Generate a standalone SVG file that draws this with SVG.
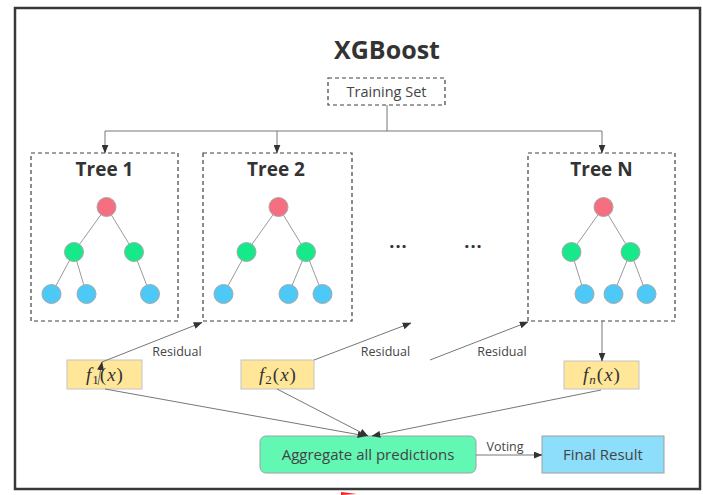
<svg xmlns="http://www.w3.org/2000/svg" width="703" height="495" viewBox="0 0 703 495">
  <defs>
    <style>
      .lbl { font-family: "Open Sans", "Liberation Sans", sans-serif; fill: #444444; }
      .title { font-family: "Open Sans", "Liberation Sans", sans-serif; font-weight: 700; fill: #333333; }
      .math { font-family: "Liberation Serif", "DejaVu Serif", serif; fill: #333333; font-size: 19px; }
      .frame { fill: none; stroke: #404040; stroke-width: 1.2; stroke-dasharray: 4 3; }
      .edge { stroke: #9a9a9a; stroke-width: 1; fill: none; }
      .root { fill: #f66f80; stroke: #a8a8a8; stroke-width: 1; }
      .mid { fill: #17e98b; stroke: #a8a8a8; stroke-width: 1; }
      .leaf { fill: #4cc9f6; stroke: #a8a8a8; stroke-width: 1; }
      .fbox { fill: #ffe699; stroke: #c4c4c4; stroke-width: 1; }
      .conn { stroke: #777777; stroke-width: 1; fill: none; }
    </style>
    <marker id="arrow" viewBox="0 0 10 8" refX="9.5" refY="4" markerWidth="9" markerHeight="7" markerUnits="userSpaceOnUse" orient="auto">
      <path d="M0,0 L10,4 L0,8 Z" fill="#333333"/>
    </marker>
  </defs>

  <rect x="0" y="0" width="703" height="495" fill="#ffffff"/>

  <!-- outer frame -->
  <rect x="15" y="8" width="685" height="481" fill="none" stroke="#383838" stroke-width="2.5"/>
  <path d="M341,492 L357,494 L341,495 Z" fill="#ff1a1a"/>

  <text class="title" x="387" y="59" font-size="25" text-anchor="middle">XGBoost</text>

  <g id="training-set">
    <rect class="frame" x="328" y="78" width="117" height="27"/>
    <text class="lbl" x="386.5" y="97" font-size="14.5" text-anchor="middle">Training Set</text>
  </g>

  <g id="tree-1">
    <rect class="frame" x="31" y="153" width="147" height="168"/>
    <text class="title" x="104.5" y="176" font-size="19" text-anchor="middle">Tree 1</text>
    <path class="edge" d="M106.5,207 L74,252 M106.5,207 L134,252 M74,252 L51.5,294 M74,252 L86.5,294 M134,252 L150,294"/>
    <circle class="root" cx="106.5" cy="207" r="9.5"/>
    <circle class="mid" cx="74" cy="252" r="9.5"/>
    <circle class="mid" cx="134" cy="252" r="9.5"/>
    <circle class="leaf" cx="51.5" cy="294" r="9.5"/>
    <circle class="leaf" cx="86.5" cy="294" r="9.5"/>
    <circle class="leaf" cx="150" cy="294" r="9.5"/>
  </g>

  <g id="tree-2">
    <rect class="frame" x="203" y="153" width="149" height="168"/>
    <text class="title" x="276" y="176" font-size="19" text-anchor="middle">Tree 2</text>
    <path class="edge" d="M278.5,207 L246.5,252 M278.5,207 L306,252 M246.5,252 L223.5,294 M306,252 L288.5,294 M306,252 L322.5,294"/>
    <circle class="root" cx="278.5" cy="207" r="9.5"/>
    <circle class="mid" cx="246.5" cy="252" r="9.5"/>
    <circle class="mid" cx="306" cy="252" r="9.5"/>
    <circle class="leaf" cx="223.5" cy="294" r="9.5"/>
    <circle class="leaf" cx="288.5" cy="294" r="9.5"/>
    <circle class="leaf" cx="322.5" cy="294" r="9.5"/>
  </g>

  <g id="ellipsis">
    <text class="title" x="398.5" y="248" font-size="18" letter-spacing="1" text-anchor="middle">...</text>
    <text class="title" x="473.5" y="248" font-size="18" letter-spacing="1" text-anchor="middle">...</text>
  </g>

  <g id="tree-n">
    <rect class="frame" x="528" y="153" width="147" height="168"/>
    <text class="title" x="601.5" y="176" font-size="19" text-anchor="middle">Tree N</text>
    <path class="edge" d="M603.5,207 L571.5,252 M603.5,207 L630.5,252 M571.5,252 L584.5,294 M630.5,252 L613.5,294 M630.5,252 L646.5,294"/>
    <circle class="root" cx="603.5" cy="207" r="9.5"/>
    <circle class="mid" cx="571.5" cy="252" r="9.5"/>
    <circle class="mid" cx="630.5" cy="252" r="9.5"/>
    <circle class="leaf" cx="584.5" cy="294" r="9.5"/>
    <circle class="leaf" cx="613.5" cy="294" r="9.5"/>
    <circle class="leaf" cx="646.5" cy="294" r="9.5"/>
  </g>

  <g id="f1">
    <rect class="fbox" x="67" y="360" width="75" height="29"/>
    <text class="math" x="104.5" y="381" text-anchor="middle"><tspan font-style="italic">f</tspan><tspan font-size="13" dx="1" dy="3">1</tspan><tspan dx="1" dy="-3">(</tspan><tspan font-style="italic" dx="1">x</tspan><tspan dx="1">)</tspan></text>
  </g>

  <g id="f2">
    <rect class="fbox" x="241" y="360" width="73" height="29"/>
    <text class="math" x="277.5" y="381" text-anchor="middle"><tspan font-style="italic">f</tspan><tspan font-size="13" dx="1" dy="3">2</tspan><tspan dx="1" dy="-3">(</tspan><tspan font-style="italic" dx="1">x</tspan><tspan dx="1">)</tspan></text>
  </g>

  <g id="fn">
    <rect class="fbox" x="564" y="361" width="75" height="28"/>
    <text class="math" x="601.5" y="381" text-anchor="middle"><tspan font-style="italic">f</tspan><tspan font-size="13" font-style="italic" dx="1" dy="3">n</tspan><tspan dx="1" dy="-3">(</tspan><tspan font-style="italic" dx="1">x</tspan><tspan dx="1">)</tspan></text>
  </g>

  <g id="aggregate">
    <rect x="260" y="436" width="216" height="37" rx="6" fill="#62f7b3" stroke="#a0a0a0" stroke-width="1"/>
    <text class="lbl" x="368" y="460" font-size="15" text-anchor="middle">Aggregate all predictions</text>
  </g>

  <g id="final-result">
    <rect x="542" y="436" width="122" height="37" fill="#8cdefb" stroke="#a0a0a0" stroke-width="1"/>
    <text class="lbl" x="603" y="460" font-size="15" text-anchor="middle">Final Result</text>
  </g>

  <g id="connectors">
    <!-- training set fan-out -->
    <path class="conn" d="M387,105 L387,131 M105,131 L602,131"/>
    <line class="conn" x1="105" y1="131" x2="105" y2="153" marker-end="url(#arrow)"/>
    <line class="conn" x1="277" y1="131" x2="277" y2="153" marker-end="url(#arrow)"/>
    <line class="conn" x1="602" y1="131" x2="602" y2="153" marker-end="url(#arrow)"/>

    <!-- residual hand-offs -->
    <line class="conn" x1="98" y1="385" x2="102" y2="362" marker-end="url(#arrow)"/>
    <line class="conn" x1="102" y1="362" x2="202" y2="322.5" marker-end="url(#arrow)"/>
    <line class="conn" x1="314" y1="360" x2="411" y2="323" marker-end="url(#arrow)"/>
    <line class="conn" x1="430" y1="360" x2="528" y2="322" marker-end="url(#arrow)"/>
    <text class="lbl" x="177" y="356" font-size="12.5" text-anchor="middle">Residual</text>
    <text class="lbl" x="385.5" y="356" font-size="12.5" text-anchor="middle">Residual</text>
    <text class="lbl" x="502" y="356" font-size="12.5" text-anchor="middle">Residual</text>

    <!-- tree N to its output -->
    <line class="conn" x1="602" y1="321" x2="602" y2="361" marker-end="url(#arrow)"/>

    <!-- outputs into aggregation -->
    <line class="conn" x1="105" y1="389" x2="366" y2="436" marker-end="url(#arrow)"/>
    <line class="conn" x1="277" y1="389" x2="368" y2="436" marker-end="url(#arrow)"/>
    <line class="conn" x1="601" y1="390" x2="372" y2="436" marker-end="url(#arrow)"/>

    <!-- voting -->
    <line class="conn" x1="476" y1="455" x2="542" y2="455" marker-end="url(#arrow)"/>
    <text class="lbl" x="505" y="451" font-size="12.5" text-anchor="middle">Voting</text>
  </g>
</svg>
